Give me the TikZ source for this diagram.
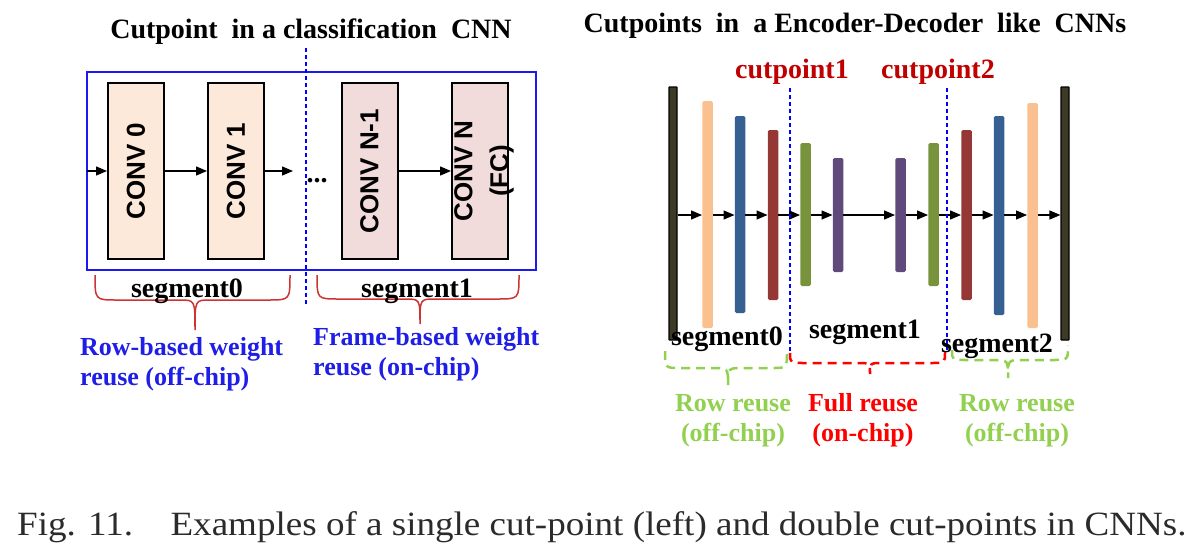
\documentclass[tikz,border=0pt]{standalone}
\usepackage{fontspec}
\setmainfont{Liberation Serif}
\setsansfont{Liberation Sans}
\newfontfamily\capfont[FakeStretch=1.09]{Liberation Serif}
\usetikzlibrary{arrows.meta}
\definecolor{peach}{HTML}{FDE9D9}
\definecolor{rosy}{HTML}{F2DCDB}
\definecolor{frameblue}{HTML}{1A1AF0}
\definecolor{textblue}{HTML}{1E1EE6}
\definecolor{lgreen}{HTML}{92D050}
\definecolor{dred}{HTML}{C00000}
\definecolor{bracered}{HTML}{CC3333}
\definecolor{barorange}{HTML}{FAC090}
\definecolor{barblue}{HTML}{376092}
\definecolor{barred}{HTML}{953735}
\definecolor{bargreen}{HTML}{77933C}
\definecolor{barpurple}{HTML}{604A7B}
\definecolor{barblack}{HTML}{3D3A26}
\definecolor{captiongray}{HTML}{2B2B2B}
\begin{document}
\begin{tikzpicture}[x=1pt,y=-1pt,
  convbox/.style={draw=black, line width=2pt, minimum width=56pt, minimum height=176pt, inner sep=0pt},
  convtxt/.style={rotate=90, font=\sffamily\bfseries\fontsize{26}{36}\selectfont, align=center, inner sep=0pt},
  bar/.style={minimum width=10.5pt, inner sep=0pt, rounded corners=1.5pt},
  flow/.style={line width=1.3pt, -{Triangle[length=11pt,width=9pt]}},
  cutline/.style={draw=blue, line width=1.5pt, dash pattern=on 4pt off 3pt},
  ttl/.style={font=\bfseries\fontsize{28}{32}\selectfont, inner sep=0pt},
  lbl/.style={font=\bfseries\fontsize{26}{30}\selectfont, inner sep=0pt, align=left},
  rlbl/.style={font=\bfseries\fontsize{26}{30}\selectfont, inner sep=0pt, align=center},
  lbrace/.style={draw=bracered, line width=1.5pt},
  dbrace/.style={line width=2.5pt, dash pattern=on 9pt off 6pt}
]
\useasboundingbox (0,0) rectangle (1202,549);

% ---------------- left: classification CNN ----------------
\node[ttl, anchor=base] (ltitle) at (311,38) {Cutpoint~ in a classification~ CNN};

\node[draw=frameblue, line width=2.5pt, minimum width=449pt, minimum height=198pt, inner sep=0pt] (frame) at (311.5,171) {};

\node[convbox, fill=peach] (c0) at (136,171) {};
\node[convbox, fill=peach] (c1) at (236,171) {};
\node[convbox, fill=rosy] (cn1) at (369.5,171) {};
\node[convbox, fill=rosy] (cn) at (480,171) {};
\node[convtxt] (t0) at (c0.center) {CONV 0};
\node[convtxt] (t1) at (c1.center) {CONV 1};
\node[convtxt] (tn1) at (cn1.center) {CONV N-1};
\node[convtxt] (tn) at (484,171) {CONV N\\(FC)};

\coordinate (lin) at (87,171);
\coordinate (lout) at (293,171);
\draw[flow] (lin) -- (c0.west);
\draw[flow] (c0.east) -- (c1.west);
\draw[flow] (c1.east) -- (lout);
\draw[flow] (cn1.east) -- (cn.west);
\node[font=\bfseries\fontsize{28}{32}\selectfont, inner sep=0pt] (dots) at (317,181) {...};

\draw[cutline] (306,48) -- (306,306);

\draw[lbrace] (95,275) .. controls (95,300) .. (117,300) -- (180,300) .. controls (195,300) .. (195,330) .. controls (195,300) .. (210,300) -- (268,300) .. controls (290,300) .. (290,275);
\draw[lbrace] (317,275) .. controls (317,299) .. (339,299) -- (405,299) .. controls (420,299) .. (420,324) .. controls (420,299) .. (435,299) -- (497,299) .. controls (519,299) .. (519,275);

\node[ttl, anchor=base] (ls0) at (187,297) {segment0};
\node[ttl, anchor=base] (ls1) at (417,297) {segment1};

\node[lbl, text=textblue, anchor=base west] (lr0) at (80,385) {Row-based weight\\reuse (off-chip)};
\node[lbl, text=textblue, anchor=base west] (lr1) at (313,375) {Frame-based weight\\reuse (on-chip)};

% ---------------- right: encoder-decoder ----------------
\node[ttl, anchor=base] (rtitle) at (855,32) {Cutpoints~ in~ a Encoder-Decoder~ like~ CNNs};

\node[bar, fill=barblack, draw=black, line width=1.2pt, minimum width=8pt, minimum height=253pt, rounded corners=0.5pt] (bl) at (673,213.5) {};
\node[bar, fill=barorange, minimum height=227pt] (o1) at (707.5,214.5) {};
\node[bar, fill=barblue, minimum height=197pt] (b1) at (740,214.5) {};
\node[bar, fill=barred, minimum height=170pt] (r1) at (773,215) {};
\node[bar, fill=bargreen, minimum height=143pt] (g1) at (805.5,214.5) {};
\node[bar, fill=barpurple, minimum height=114pt] (p1) at (838,215) {};
\node[bar, fill=barpurple, minimum height=114pt] (p2) at (900.5,215) {};
\node[bar, fill=bargreen, minimum height=143pt] (g2) at (933.5,214.5) {};
\node[bar, fill=barred, minimum height=170pt] (r2) at (966.5,215) {};
\node[bar, fill=barblue, minimum height=199pt] (b2) at (999,215.5) {};
\node[bar, fill=barorange, minimum height=225pt] (o2) at (1032.5,215.5) {};
\node[bar, fill=barblack, draw=black, line width=1.2pt, minimum width=8pt, minimum height=253pt, rounded corners=0.5pt] (br) at (1065,213.5) {};

\draw[flow] (bl.east |- 0,215) -- (o1.west |- 0,215);
\draw[flow] (o1.east |- 0,215) -- (b1.west |- 0,215);
\draw[flow] (b1.east |- 0,215) -- (r1.west |- 0,215);
\draw[flow] (r1.east |- 0,215) -- (g1.west |- 0,215);
\draw[flow] (g1.east |- 0,215) -- (p1.west |- 0,215);
\draw[flow] (p1.east |- 0,215) -- (p2.west |- 0,215);
\draw[flow] (p2.east |- 0,215) -- (g2.west |- 0,215);
\draw[flow] (g2.east |- 0,215) -- (r2.west |- 0,215);
\draw[flow] (r2.east |- 0,215) -- (b2.west |- 0,215);
\draw[flow] (b2.east |- 0,215) -- (o2.west |- 0,215);
\draw[flow] (o2.east |- 0,215) -- (br.west |- 0,215);

\draw[cutline] (790,88) -- (790,356);
\draw[cutline] (947,88) -- (947,350);

\node[ttl, text=dred, anchor=base] (cp1) at (792,78) {cutpoint1};
\node[ttl, text=dred, anchor=base] (cp2) at (938,78) {cutpoint2};

\node[ttl, anchor=base] (rs0) at (727,345) {segment0};
\node[ttl, anchor=base] (rs1) at (865,338) {segment1};
\node[ttl, anchor=base] (rs2) at (997,352) {segment2};

\draw[dbrace, draw=lgreen] (665,351) .. controls (665,368) .. (680,368) -- (713,368) .. controls (728,368) .. (728,385) .. controls (728,368) .. (743,368) -- (772,368) .. controls (787,368) .. (787,351);
\draw[dbrace, draw=red] (790,353) .. controls (790,363) .. (805,363) -- (858,363) .. controls (870,363) .. (870,374) .. controls (870,363) .. (882,363) -- (932,363) .. controls (945,363) .. (945,352);
\draw[dbrace, draw=lgreen] (952,350) .. controls (952,360) .. (966,360) -- (994,360) .. controls (1008,360) .. (1008,378) .. controls (1008,360) .. (1022,360) -- (1054,360) .. controls (1068,360) .. (1068,345);

\node[rlbl, text=lgreen, anchor=base] (rr0) at (733,441) {Row reuse\\(off-chip)};
\node[rlbl, text=red, anchor=base] (rr1) at (863,441) {Full reuse\\(on-chip)};
\node[rlbl, text=lgreen, anchor=base] (rr2) at (1017,441) {Row reuse\\(off-chip)};

% ---------------- caption ----------------
\node[font=\capfont\fontsize{34}{38}\selectfont, text=captiongray, anchor=base west, inner sep=0pt] (cap) at (17,535) {Fig. 11.\hspace{1.1em}Examples of a single cut-point (left) and double cut-points in CNNs.};
\end{tikzpicture}
\end{document}
